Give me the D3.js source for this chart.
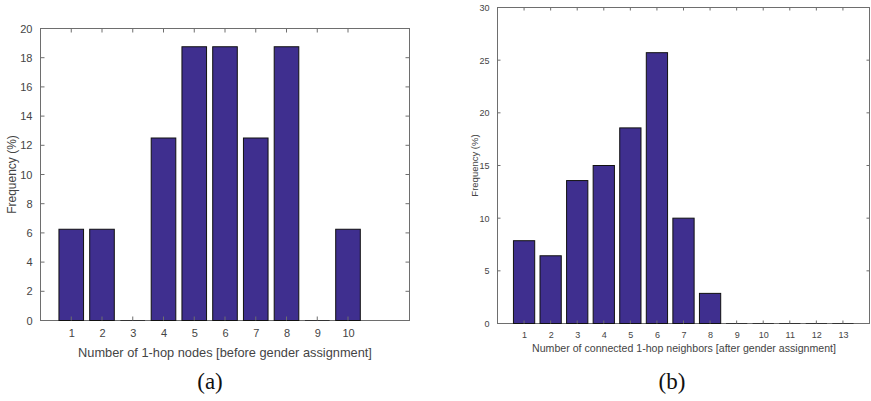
<!DOCTYPE html>
<html lang="en">
<head>
    <meta charset="utf-8" />
    <script src="https://d3js.org/d3.v7.min.js"></script>
    <title>Histograms</title>
    <style>
        body { margin: 0; background: #fff; }
        text { font-family: "Liberation Sans", Arial, sans-serif; }
    </style>
</head>
<body>
    <script>
        // Panel (a): number of 1-hop nodes before gender assignment
        const binsA = [1, 2, 3, 4, 5, 6, 7, 8, 9, 10];
        const freqA = [6.25, 6.25, 0, 12.5, 18.75, 18.75, 12.5, 18.75, 0, 6.25];
        const yTicksA = [0, 2, 4, 6, 8, 10, 12, 14, 16, 18, 20];

        // Panel (b): connected 1-hop neighbors after gender assignment
        const binsB = [1, 2, 3, 4, 5, 6, 7, 8, 9, 10, 11, 12, 13];
        const freqB = [7.86, 6.43, 13.57, 15.0, 18.57, 25.71, 10.0, 2.86, 0, 0, 0, 0, 0];
        const yTicksB = [0, 5, 10, 15, 20, 25, 30];

        const barColor = "#3f2f8f";
        const axisColor = "#6e6e6e";
        const textColor = "#444";

        const svg = d3.select("body")
            .append("svg")
            .attr("width", 871)
            .attr("height", 401);

        // draws one matlab-style boxed bar chart
        function drawPanel(opt) {
            const x = d3.scaleLinear().domain(opt.xDomain).range([opt.left, opt.right]);
            const y = d3.scaleLinear().domain(opt.yDomain).range([opt.bottom, opt.top]);
            const bw = (x(1) - x(0)) * 0.8;
            const g = svg.append("g");

            // box first so empty bins draw on top of it
            g.append("rect")
                .attr("x", opt.left).attr("y", opt.top)
                .attr("width", opt.right - opt.left)
                .attr("height", opt.bottom - opt.top)
                .attr("fill", "none")
                .attr("stroke", axisColor)
                .attr("stroke-width", 1);

            // bars
            g.selectAll("rect.bar")
                .data(opt.freq.filter(d => d > 0).length ? opt.freq : [])
                .enter()
                .append("rect")
                .attr("class", "bar")
                .attr("x", (d, i) => x(opt.bins[i]) - bw / 2)
                .attr("y", d => y(d))
                .attr("width", bw)
                .attr("height", d => y(0) - y(d))
                .attr("fill", barColor)
                .attr("stroke", "#111")
                .attr("stroke-width", 1);

            // empty bins show as a flat line on the baseline
            g.selectAll("line.zero")
                .data(opt.bins.filter((b, i) => opt.freq[i] === 0))
                .enter()
                .append("line")
                .attr("x1", d => x(d) - bw / 2).attr("x2", d => x(d) + bw / 2)
                .attr("y1", y(0)).attr("y2", y(0))
                .attr("stroke", "#333")
                .attr("stroke-width", 1);

            // bottom and left axes
            const xAxis = d3.axisBottom(x).tickValues(opt.bins).tickSize(0).tickPadding(opt.xPad).tickFormat(d3.format("d"));
            const yAxis = d3.axisLeft(y).tickValues(opt.yTicks).tickSize(0).tickPadding(opt.yPad).tickFormat(d3.format("d"));

            const gx = g.append("g").attr("transform", `translate(0,${opt.bottom})`).call(xAxis);
            const gy = g.append("g").attr("transform", `translate(${opt.left},0)`).call(yAxis);
            [gx, gy].forEach(a => {
                a.select(".domain").remove();
                a.selectAll("text").attr("fill", textColor).style("font-size", opt.tickFont + "px");
            });

            // inward ticks on all four sides
            const tl = opt.tickLen;
            g.selectAll("line.xt")
                .data(opt.bins)
                .enter()
                .append("line")
                .attr("x1", d => x(d)).attr("x2", d => x(d))
                .attr("y1", opt.bottom).attr("y2", opt.bottom - tl)
                .attr("stroke", axisColor);
            g.selectAll("line.xtt")
                .data(opt.bins)
                .enter()
                .append("line")
                .attr("x1", d => x(d)).attr("x2", d => x(d))
                .attr("y1", opt.top).attr("y2", opt.top + tl)
                .attr("stroke", axisColor);
            g.selectAll("line.yt")
                .data(opt.yTicks)
                .enter()
                .append("line")
                .attr("x1", opt.left).attr("x2", opt.left + tl)
                .attr("y1", d => y(d)).attr("y2", d => y(d))
                .attr("stroke", axisColor);
            g.selectAll("line.ytr")
                .data(opt.yTicks)
                .enter()
                .append("line")
                .attr("x1", opt.right).attr("x2", opt.right - tl)
                .attr("y1", d => y(d)).attr("y2", d => y(d))
                .attr("stroke", axisColor);

            // axis labels
            g.append("text")
                .attr("x", opt.xLabelX).attr("y", opt.xLabelY)
                .attr("text-anchor", "middle")
                .attr("fill", textColor)
                .style("font-size", opt.labelFont + "px")
                .text(opt.xLabel);
            g.append("text")
                .attr("transform", `translate(${opt.yLabelX},${(opt.top + opt.bottom) / 2}) rotate(-90)`)
                .attr("text-anchor", "middle")
                .attr("fill", textColor)
                .style("font-size", opt.yLabelFont + "px")
                .text("Frequency (%)");

            // sub caption
            g.append("text")
                .attr("x", opt.capX).attr("y", 389)
                .attr("text-anchor", "middle")
                .attr("fill", "#111")
                .style("font-family", "'Liberation Serif', 'DejaVu Serif', serif")
                .style("font-size", "23px")
                .text(opt.caption);
        }

        drawPanel({
            bins: binsA, freq: freqA, yTicks: yTicksA,
            xDomain: [0, 12], yDomain: [0, 20],
            left: 40.5, right: 409.5, top: 28.5, bottom: 320.5,
            tickLen: 4, xPad: 9, yPad: 8, tickFont: 11, labelFont: 12.8, yLabelFont: 12,
            xLabel: "Number of 1-hop nodes [before gender assignment]",
            xLabelX: 225, xLabelY: 357, yLabelX: 16,
            caption: "(a)", capX: 210
        });

        drawPanel({
            bins: binsB, freq: freqB, yTicks: yTicksB,
            xDomain: [0, 14], yDomain: [0, 30],
            left: 497.5, right: 869.5, top: 7.5, bottom: 323.5,
            tickLen: 3, xPad: 8, yPad: 8, tickFont: 9, labelFont: 10.6, yLabelFont: 9.5,
            xLabel: "Number of connected 1-hop neighbors [after gender assignment]",
            xLabelX: 684, xLabelY: 352, yLabelX: 478,
            caption: "(b)", capX: 672
        });
    </script>
</body>
</html>
